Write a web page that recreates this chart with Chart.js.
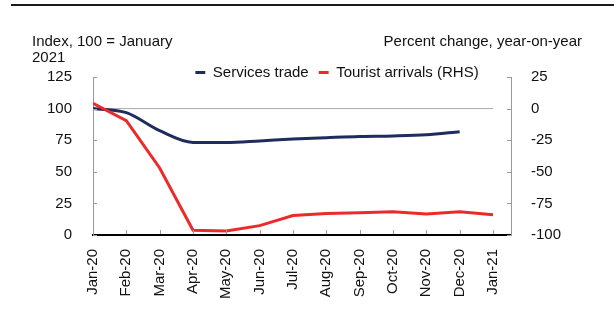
<!DOCTYPE html>
<html>
<head>
<meta charset="utf-8">
<script src="https://cdn.jsdelivr.net/npm/chart.js@4.4.0/dist/chart.umd.min.js"></script>
<style>
body { margin: 0; background: #fff; }
#wrap { position: relative; width: 614px; height: 310px; font-family: "Liberation Sans", Arial, sans-serif; }
#myChart { position: absolute; left: 0; top: 0; }
#topline { position: absolute; left: 11px; top: 4px; width: 603px; height: 2px; background: #1a1a1a; }
.note { position: absolute; font-size: 15px; line-height: 16px; color: #111; }
</style>
</head>
<body>
<div id="wrap">
	<canvas id="myChart" width="614" height="310"></canvas>
	<div id="topline"></div>
	<div class="note" style="left:32px;top:33px">Index, 100 = January<br>2021</div>
	<div class="note" style="right:32px;top:33px">Percent change, year-on-year</div>
</div>
<script>
//months on the x axis
let labels = ["Jan-20", "Feb-20", "Mar-20", "Apr-20", "May-20", "Jun-20", "Jul-20",
	"Aug-20", "Sep-20", "Oct-20", "Nov-20", "Dec-20", "Jan-21"];
//left axis, index (no Jan-21 value)
let servicesTrade = [100, 96.8, 82.5, 73.2, 73.1, 74.4, 75.9, 77.0, 78.0, 78.4, 79.3, 81.7];
//right axis, percent change y-o-y
let touristArrivals = [4.2, -9.6, -47, -96.3, -96.8, -92.6, -84.6, -82.9, -82.4, -81.6, -83.4, -81.6, -83.9];
//tick labels for the two value axes
let leftTicks = [0, 25, 50, 75, 100, 125];
let rightTicks = [-100, -75, -50, -25, 0, 25];

let font = { family: "'Liberation Sans', Arial, sans-serif", size: 15 };

//turn a list into {x, y} points
function toPoints(arr) {
	return arr.map((v, i) => ({ x: i, y: v }));
}

//excel style ticks that point into the plot
const innerTicks = {
	id: "innerTicks",
	afterDraw(chart) {
		const { ctx, chartArea: a, scales } = chart;
		ctx.save();
		ctx.lineWidth = 1;
		ctx.strokeStyle = "#9a9a9a";
		scales.x.ticks.forEach((t) => {
			let px = Math.round(scales.x.getPixelForValue(t.value)) + 0.5;
			ctx.beginPath();
			ctx.moveTo(px, a.bottom - 1);
			ctx.lineTo(px, a.bottom - 5);
			ctx.stroke();
		});
		scales.y.ticks.forEach((t) => {
			let py = Math.round(scales.y.getPixelForValue(t.value)) + 0.5;
			ctx.beginPath();
			ctx.moveTo(a.left, py);
			ctx.lineTo(a.left + 4, py);
			ctx.stroke();
		});
		scales.y2.ticks.forEach((t) => {
			let py = Math.round(scales.y2.getPixelForValue(t.value)) + 0.5;
			ctx.beginPath();
			ctx.moveTo(a.right, py);
			ctx.lineTo(a.right - 4, py);
			ctx.stroke();
		});
		ctx.restore();
	},
};

//legend sits a bit right and lower than chart.js puts it
const legendShift = {
	id: "legendShift",
	afterLayout(chart) {
		const lg = chart.legend;
		let dx = 337 - (lg.left + lg.right) / 2;
		let dy = 55 - lg.top;
		lg.left += dx;
		lg.right += dx;
		lg.top += dy;
		lg.bottom += dy;
	},
};

let ctx = document.getElementById("myChart").getContext("2d");
var myChart = new Chart(ctx, {
	type: "line",
	data: {
		datasets: [
			{
				label: "Services trade",
				data: toPoints(servicesTrade),
				yAxisID: "y",
				borderColor: "#1f2d5e",
				backgroundColor: "#1f2d5e",
				borderWidth: 3,
				pointRadius: 0,
				cubicInterpolationMode: "monotone",
				order: 2,
			},
			{
				label: "Tourist arrivals (RHS)",
				data: toPoints(touristArrivals),
				yAxisID: "y2",
				borderColor: "#ec2a2a",
				backgroundColor: "#ec2a2a",
				borderWidth: 3,
				pointRadius: 0,
				tension: 0,
				order: 1,
			},
			{
				label: "zero",
				data: [{ x: 0, y: 0 }, { x: labels.length - 1, y: 0 }],
				yAxisID: "y2",
				borderColor: "#a8a8a8",
				borderWidth: 1,
				pointRadius: 0,
				order: 3,
			},
		],
	},
	options: {
		responsive: false,
		animation: false,
		layout: { padding: { top: 42, left: 0, right: 0, bottom: 0 } },
		plugins: {
			tooltip: { enabled: false },
			legend: {
				position: "top",
				labels: {
					font: font,
					color: "#111",
					usePointStyle: true,
					pointStyle: "line",
					boxWidth: 10,
					boxHeight: 7,
					padding: 10,
					filter: (item) => item.text !== "zero",
					sort: (a, b) => a.datasetIndex - b.datasetIndex,
				},
			},
		},
		scales: {
			x: {
				type: "linear",
				min: 0,
				max: 12.54,
				grid: { display: false },
				border: { display: true, color: "#000", width: 2 },
				afterBuildTicks: (scale) => {
					scale.ticks = labels.map((l, i) => ({ value: i }));
				},
				afterFit: (scale) => {
					scale.height = 75;
				},
				ticks: {
					autoSkip: false,
					minRotation: 90,
					maxRotation: 90,
					padding: 6,
					font: font,
					color: "#111",
					callback: (v) => labels[v],
				},
			},
			y: {
				position: "left",
				min: 0,
				max: 125,
				grid: { display: false },
				border: { display: true, color: "#9a9a9a", width: 1 },
				afterBuildTicks: (scale) => {
					scale.ticks = leftTicks.map((v) => ({ value: v }));
				},
				afterFit: (scale) => {
					scale.width = 93;
				},
				ticks: { padding: 13, font: font, color: "#111" },
			},
			y2: {
				position: "right",
				min: -100,
				max: 25,
				grid: { display: false },
				border: { display: true, color: "#9a9a9a", width: 1 },
				afterBuildTicks: (scale) => {
					scale.ticks = rightTicks.map((v) => ({ value: v }));
				},
				afterFit: (scale) => {
					scale.width = 103;
				},
				ticks: { padding: 12, font: font, color: "#111" },
			},
		},
	},
	plugins: [innerTicks, legendShift],
});
</script>
</body>
</html>
